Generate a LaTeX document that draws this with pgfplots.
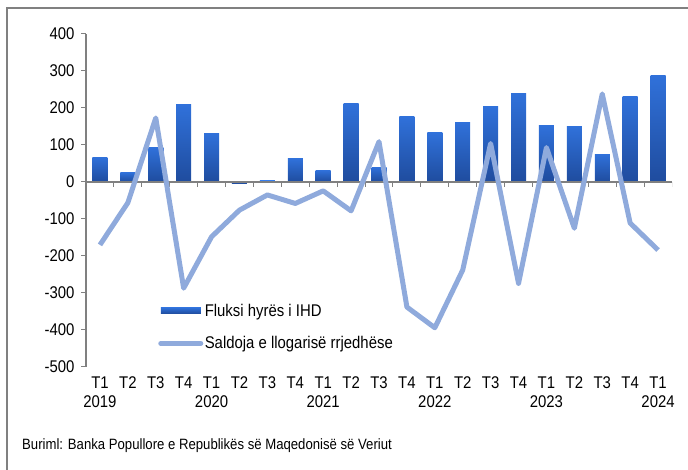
\documentclass[border=0pt]{standalone}
\usepackage{fontspec}
\setmainfont{Liberation Sans}[FakeStretch=0.88]
\usepackage{pgfplots}
\pgfplotsset{compat=1.18}

\definecolor{bartop}{RGB}{48,113,218}
\definecolor{barbot}{RGB}{31,76,158}
\definecolor{saldo}{RGB}{143,170,220}
\definecolor{axgray}{RGB}{128,128,128}

\pgfplotsset{
  ihdbar/.style={ybar, bar width=15bp, bar shift=0pt, draw=none,
    top color=bartop, bottom color=barbot},
}
% one bar per quarter, so that every bar has its own gradient
\newcommand\ihd[2]{\addplot[ihdbar, forget plot] coordinates {(#1,#2)};}

\begin{document}
\begin{tikzpicture}[x=1bp,y=1bp]
\useasboundingbox (0,0) rectangle (688,470);
\draw[axgray, line width=1.5bp] (7,0) -- (7,462) -- (688,462);
\begin{axis}[
  at={(86bp,103bp)}, anchor=south west,
  scale only axis, width=586bp, height=333bp,
  xmin=-0.5, xmax=20.5, ymin=-500, ymax=400,
  ytick={-500,-400,...,400},
  xtick={0,...,20},
  xticklabels={{T1\\2019},T2,T3,T4,{T1\\2020},T2,T3,T4,{T1\\2021},T2,T3,T4,{T1\\2022},T2,T3,T4,{T1\\2023},T2,T3,T4,{T1\\2024}},
  axis y line*=left, axis x line*=bottom,
  x axis line style={draw=none},
  xtick style={draw=none},
  ytick style={axgray, line width=1bp},
  y axis line style={axgray, line width=1.2bp, -},
  tick align=outside, major tick length=5bp,
  /pgf/number format/assume math mode=true,
  tick label style={font=\fontsize{17}{19}\selectfont},
  yticklabel style={xshift=-3bp},
  xticklabel style={align=center, yshift=-1bp},
  legend style={draw=none, fill=none, at={(0.123,0.195)}, anchor=north west,
    font=\fontsize{17}{19}\selectfont, row sep=16bp, inner sep=0pt,
    nodes={inner sep=1.5bp}},
  legend cell align=left,
]
% Fluksi hyrës i IHD
\ihd{0}{67}   \ihd{1}{26}   \ihd{2}{93}   \ihd{3}{209}  \ihd{4}{132}
\ihd{5}{-3}   \ihd{6}{4}    \ihd{7}{63}   \ihd{8}{32}   \ihd{9}{212}
\ihd{10}{40}  \ihd{11}{177} \ihd{12}{133} \ihd{13}{161} \ihd{14}{204}
\ihd{15}{240} \ihd{16}{154} \ihd{17}{150} \ihd{18}{75}  \ihd{19}{230}
\ihd{20}{289}
\addlegendimage{ihdbar, legend image code/.code={\fill[draw=none,top color=bartop,bottom color=barbot] (0bp,-3bp) rectangle (40bp,3bp);}}
\addlegendentry{Fluksi hyrës i IHD}
\draw[axgray, line width=1.2bp] (axis cs:-0.5,0) -- (axis cs:20.5,0);
\pgfplotsinvokeforeach{0,...,20}{
  \draw[axgray, line width=1bp] (axis cs:#1.5,0) -- ++(0pt,-5bp);
}
% Saldoja e llogarisë rrjedhëse
\addplot[saldo, line width=5bp, line join=round, no markers,
  legend image code/.code={\draw[saldo,line width=5bp,line cap=round] (0bp,0bp) -- (40bp,0bp);}]
  coordinates {(0,-170) (1,-56) (2,173) (3,-287) (4,-148) (5,-76) (6,-35) (7,-58) (8,-24) (9,-78)
    (10,109) (11,-338) (12,-394) (13,-238) (14,104) (15,-274) (16,93) (17,-125) (18,238) (19,-111) (20,-184)};
\addlegendentry{Saldoja e llogarisë rrjedhëse}
\end{axis}
\node[anchor=base west, font=\fontsize{15}{17}\selectfont, inner sep=0pt] at (22,20)
  {Buriml: Banka Popullore e Republikës së Maqedonisë së Veriut};
\end{tikzpicture}
\end{document}
